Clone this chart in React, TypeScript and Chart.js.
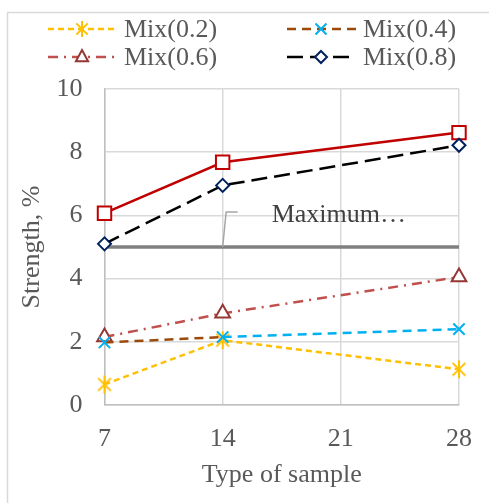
import React, { useEffect, useRef } from "react";
import { Chart, registerables } from "chart.js";

Chart.register(...registerables);

const xValues = [7, 14, 28];
const xTicks = [7, 14, 21, 28];
const mix02 = [0.65, 2.05, 1.13];
const mix04 = [1.98, 2.15, 2.4];
const mix06 = [2.15, 2.9, 4.05];
const mix08 = [5.1, 6.95, 8.22];
const topSeries = [6.07, 7.68, 8.62];
const maximum = [5, 5, 5];
const maxLabel = "Maximum…";

const FONT = "'Liberation Serif', 'Times New Roman', serif";
const TEXT = "#595959";
const FS = 26;

function makeStar(color: string, r: number) {
  const s = Math.ceil(r * 2 + 4);
  const c = document.createElement("canvas");
  c.width = s;
  c.height = s;
  const g = c.getContext("2d")!;
  const m = s / 2;
  g.strokeStyle = color;
  g.lineWidth = 2;
  g.beginPath();
  const angles = [Math.PI / 2, Math.PI / 4, -Math.PI / 4];
  angles.forEach((a) => {
    g.moveTo(m + Math.cos(a) * r, m + Math.sin(a) * r);
    g.lineTo(m - Math.cos(a) * r, m - Math.sin(a) * r);
  });
  g.stroke();
  return c;
}

const pts = (vals: number[]) => xValues.map((x, i) => ({ x, y: vals[i] }));

export default function App() {
  const ref = useRef<HTMLCanvasElement>(null);
  useEffect(() => {
    document.body.style.margin = "0";
    const star = makeStar("#FFC000", 9);
    const starSmall = makeStar("#FFC000", 8);

    const legendItems = [
      { label: "Mix(0.2)", color: "#FFC000", dash: [6, 4], marker: "star", mcolor: "#FFC000", x: 48, y: 29 },
      { label: "Mix(0.4)", color: "#9C4A0A", dash: [9, 6], marker: "x", mcolor: "#00B0F0", x: 287, y: 29 },
      { label: "Mix(0.6)", color: "#C0504D", dash: [10, 6, 2, 6], marker: "tri", mcolor: "#953735", x: 48, y: 57 },
      { label: "Mix(0.8)", color: "#000000", dash: [16, 7], marker: "dia", mcolor: "#002060", x: 287, y: 57 },
    ];

    function drawMarker(g: CanvasRenderingContext2D, type: string, x: number, y: number, color: string) {
      g.save();
      g.setLineDash([]);
      g.strokeStyle = color;
      g.fillStyle = "#fff";
      g.lineWidth = 2;
      if (type === "star") {
        g.drawImage(starSmall, x - starSmall.width / 2, y - starSmall.height / 2);
      } else if (type === "x") {
        const r = 5.5;
        g.beginPath();
        g.moveTo(x - r, y - r);
        g.lineTo(x + r, y + r);
        g.moveTo(x + r, y - r);
        g.lineTo(x - r, y + r);
        g.stroke();
      } else if (type === "tri") {
        const r = 7;
        g.beginPath();
        g.moveTo(x, y - r);
        g.lineTo(x + r * 0.87, y + r * 0.6);
        g.lineTo(x - r * 0.87, y + r * 0.6);
        g.closePath();
        g.fill();
        g.stroke();
      } else if (type === "dia") {
        const r = 6;
        g.beginPath();
        g.moveTo(x, y - r);
        g.lineTo(x + r, y);
        g.lineTo(x, y + r);
        g.lineTo(x - r, y);
        g.closePath();
        g.fill();
        g.stroke();
      }
      g.restore();
    }

    const customPlugin = {
      id: "custom",
      beforeDraw(chart: any) {
        const g = chart.ctx as CanvasRenderingContext2D;
        g.save();
        g.fillStyle = "#fff";
        g.fillRect(0, 0, chart.width, chart.height);
        g.strokeStyle = "#D9D9D9";
        g.lineWidth = 1.5;
        g.strokeRect(7.5, 12.5, 500, 520);
        g.restore();
      },
      afterDraw(chart: any) {
        const g = chart.ctx as CanvasRenderingContext2D;
        g.save();
        legendItems.forEach((it) => {
          g.strokeStyle = it.color;
          g.lineWidth = 2.5;
          g.setLineDash(it.dash);
          g.beginPath();
          g.moveTo(it.x, it.y);
          g.lineTo(it.x + 69, it.y);
          g.stroke();
          drawMarker(g, it.marker, it.x + 34, it.y, it.mcolor);
          g.setLineDash([]);
          g.fillStyle = TEXT;
          g.font = `${FS}px ${FONT}`;
          g.textBaseline = "middle";
          g.fillText(it.label, it.x + 76, it.y + 1);
        });
        const xs = chart.scales.x;
        const ys = chart.scales.y;
        const px = xs.getPixelForValue(xValues[1]);
        const py = ys.getPixelForValue(maximum[1]);
        g.strokeStyle = "#A6A6A6";
        g.lineWidth = 1.5;
        g.beginPath();
        g.moveTo(px, py);
        g.lineTo(px + 3.5, py - 35);
        g.lineTo(px + 15, py - 35);
        g.stroke();
        g.fillStyle = "#404040";
        g.font = `${FS}px ${FONT}`;
        g.textBaseline = "middle";
        g.fillText(maxLabel, px + 49, py - 32);
        g.restore();
      },
    };

    const chart = new Chart(ref.current!, {
      type: "line",
      data: {
        datasets: [
          {
            label: maxLabel,
            data: pts(maximum),
            borderColor: "#808080",
            borderWidth: 3.5,
            pointRadius: 0,
            order: 6,
          },
          {
            label: "Mix(0.2)",
            data: pts(mix02),
            borderColor: "#FFC000",
            borderWidth: 2.5,
            borderDash: [6, 4],
            pointStyle: star as any,
            pointRadius: 9,
            order: 2,
          },
          {
            label: "Mix(0.4)",
            data: pts(mix04),
            borderColor: "#00B0F0",
            borderWidth: 2.5,
            borderDash: [9, 6],
            segment: {
              borderColor: (c: any) => (c.p0DataIndex === 0 ? "#9C4A0A" : "#00B0F0"),
            },
            pointStyle: "crossRot",
            pointRadius: 8,
            pointBorderWidth: 2,
            pointBorderColor: "#00B0F0",
            order: 1,
          },
          {
            label: "Mix(0.6)",
            data: pts(mix06),
            borderColor: "#C0504D",
            borderWidth: 2.5,
            borderDash: [10, 6, 2, 6],
            pointStyle: "triangle",
            pointRadius: 8.5,
            pointBorderWidth: 2,
            pointBorderColor: "#953735",
            pointBackgroundColor: "#fff",
            order: 3,
          },
          {
            label: "Mix(0.8)",
            data: pts(mix08),
            borderColor: "#000000",
            borderWidth: 2.5,
            borderDash: [16, 7],
            pointStyle: "rectRot",
            pointRadius: 6.5,
            pointBorderWidth: 2,
            pointBorderColor: "#002060",
            pointBackgroundColor: "#fff",
            order: 4,
          },
          {
            label: "Series6",
            data: pts(topSeries),
            borderColor: "#C00000",
            borderWidth: 2.5,
            pointStyle: "rect",
            pointRadius: 9.5,
            pointBorderWidth: 2,
            pointBorderColor: "#C00000",
            pointBackgroundColor: "#fff",
            order: 5,
          },
        ].map((d) => ({ ...d, clip: false as any })),
      },
      options: {
        animation: false,
        responsive: false,
        devicePixelRatio: 1,
        layout: { padding: { left: 0, right: 30, top: 89, bottom: 0 } },
        plugins: { legend: { display: false }, tooltip: { enabled: false } },
        scales: {
          x: {
            type: "linear",
            min: 7,
            max: 28,
            afterBuildTicks: (s: any) => {
              s.ticks = xTicks.map((v) => ({ value: v }));
            },
            afterFit: (s: any) => {
              s.height = 98;
              s.paddingLeft = 0;
              s.paddingRight = 0;
            },
            grid: { color: "#D9D9D9", lineWidth: 1.5, drawTicks: false },
            border: { color: "#BFBFBF", width: 1.5 },
            ticks: { color: TEXT, font: { family: FONT, size: FS }, padding: 19 },
            title: {
              display: true,
              text: "Type of sample",
              color: TEXT,
              font: { family: FONT, size: FS },
              padding: { top: 0, bottom: 12 },
            },
          },
          y: {
            min: 0,
            max: 10,
            ticks: { stepSize: 2, color: TEXT, font: { family: FONT, size: FS }, padding: 22 },
            afterFit: (s: any) => {
              s.width = 104.5;
              s.paddingTop = 0;
              s.paddingBottom = 0;
            },
            grid: { color: "#D9D9D9", lineWidth: 1.5, drawTicks: false },
            border: { color: "#BFBFBF", width: 1.5 },
            title: {
              display: true,
              text: "Strength, %",
              color: TEXT,
              font: { family: FONT, size: FS },
              padding: { top: 17, bottom: 0 },
            },
          },
        },
      },
      plugins: [customPlugin],
    });
    return () => chart.destroy();
  }, []);
  return <canvas ref={ref} width={489} height={503} style={{ display: "block" }} />;
}
